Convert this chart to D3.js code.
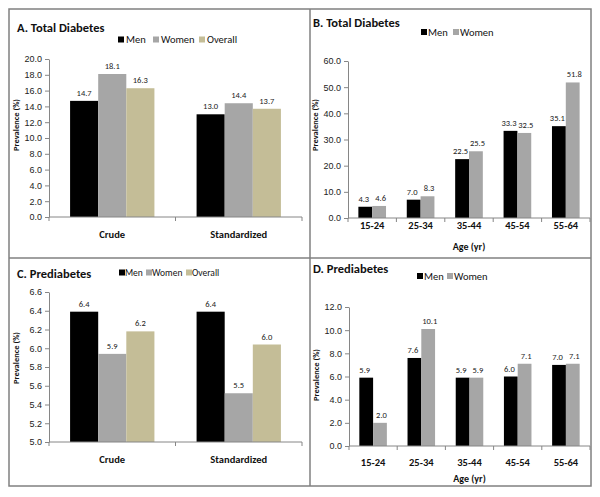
<!DOCTYPE html>
<html><head><meta charset="utf-8">
<script src="https://cdn.jsdelivr.net/npm/d3@7"></script>
<style>
body{margin:0;background:#fff;}
svg{display:block;font-family:Carlito,Lato,'Liberation Sans',sans-serif;}
</style></head><body>
<svg id="c" width="600" height="497"></svg>
<script>
// ---- data ----
const typeCategories = ["Crude", "Standardized"];
const ageCategories = ["15-24", "25-34", "35-44", "45-54", "55-64"];
const seriesABC = ["Men", "Women", "Overall"];
const seriesBD = ["Men", "Women"];
const totalDiabetesMen = [14.7, 13.0];
const totalDiabetesWomen = [18.1, 14.4];
const totalDiabetesOverall = [16.3, 13.7];
const ageDiabetesMen = [4.3, 7.0, 22.5, 33.3, 35.1];
const ageDiabetesWomen = [4.6, 8.3, 25.5, 32.5, 51.8];
const prediabetesMen = [6.39, 6.39];
const prediabetesWomen = [5.94, 5.52];
const prediabetesOverall = [6.18, 6.04];
const agePrediabetesMen = [5.9, 7.6, 5.9, 6.0, 7.0];
const agePrediabetesWomen = [2.0, 10.1, 5.9, 7.1, 7.1];
const ticksA = d3.range(0, 20.001, 2);
const ticksB = d3.range(0, 60.001, 10);
const ticksC = d3.range(5.0, 6.6001, 0.2);
const ticksD = d3.range(0, 12.001, 2);

const colors = {Men: "#000000", Women: "#a6a6a6", Overall: "#c4bd97"};

const svg = d3.select("#c");
svg.append("rect").attr("width", 600).attr("height", 497).attr("fill", "#fff");

// frame
const frame = svg.append("g").attr("stroke", "#808080").attr("stroke-width", 1.5).attr("fill", "none");
frame.append("rect").attr("x", 9).attr("y", 9).attr("width", 582).attr("height", 477);
frame.append("line").attr("x1", 310).attr("x2", 310).attr("y1", 9).attr("y2", 486);
frame.append("line").attr("x1", 9).attr("x2", 591).attr("y1", 258).attr("y2", 258);

function panel(cfg) {
  const g = svg.append("g");
  const x0 = d3.scaleBand().domain(cfg.categories).range(cfg.xr).padding(0);
  const x1 = d3.scaleBand().domain(cfg.series).range([0, x0.bandwidth()]).paddingInner(0).paddingOuter(0.75);
  const y = d3.scaleLinear().domain(cfg.domain).range(cfg.yr);
  const nudge = cfg.series.length === 2 ? [-1.5, 1.5] : [0, 0, 0];

  // bars
  cfg.categories.forEach((c, i) => {
    cfg.series.forEach((s, j) => {
      const v = cfg.values[j][i];
      const bx = x0(c) + x1(s);
      g.append("rect").attr("x", bx).attr("y", y(v))
        .attr("width", x1.bandwidth()).attr("height", y(cfg.domain[0]) - y(v))
        .attr("fill", colors[s]);
      g.append("text").attr("x", bx + x1.bandwidth() / 2 + nudge[j]).attr("y", y(v) - 5)
        .attr("text-anchor", "middle").attr("font-size", 8.5).attr("fill", "#222")
        .text(v.toFixed(1));
    });
  });

  // y axis
  const ya = g.append("g").attr("transform", `translate(${cfg.xr[0]},0)`)
    .call(d3.axisLeft(y).tickValues(cfg.ticks).tickFormat(d3.format(".1f")).tickSize(4).tickSizeOuter(0));
  ya.select(".domain").attr("stroke", "#868686");
  ya.selectAll(".tick line").attr("stroke", "#868686");
  ya.selectAll(".tick text").attr("font-size", 9).attr("fill", "#222").attr("font-family", null).attr("x", -7);

  // x axis
  const xa = g.append("g").attr("transform", `translate(0,${cfg.yr[0]})`);
  xa.append("line").attr("x1", cfg.xr[0]).attr("x2", cfg.xr[1]).attr("stroke", "#868686");
  d3.range(cfg.categories.length + 1).forEach(k => {
    const xx = cfg.xr[0] + k * x0.step();
    xa.append("line").attr("x1", xx).attr("x2", xx).attr("y1", 0).attr("y2", 4).attr("stroke", "#868686");
  });
  cfg.categories.forEach(c => {
    xa.append("text").attr("x", x0(c) + x0.bandwidth() / 2).attr("y", cfg.catY - cfg.yr[0])
      .attr("text-anchor", "middle").attr("font-size", 10.5).attr("font-weight", "bold").attr("fill", "#111").text(c);
  });
  if (cfg.xTitle) {
    g.append("text").attr("x", (cfg.xr[0] + cfg.xr[1]) / 2).attr("y", cfg.xTitleY)
      .attr("text-anchor", "middle").attr("font-size", 10).attr("font-weight", "bold").attr("fill", "#111").text(cfg.xTitle);
  }
  // y title
  g.append("text").attr("transform", `translate(${cfg.yTitleX},${cfg.yTitleY}) rotate(-90)`)
    .attr("text-anchor", "middle").attr("font-size", 8.5).attr("font-weight", "bold").attr("fill", "#111")
    .text("Prevalence (%)");
  // title
  g.append("text").attr("x", cfg.titleX).attr("y", cfg.titleY).attr("font-size", 12.5)
    .attr("font-weight", "bold").attr("fill", "#111").text(cfg.title);
  // legend
  const lg = g.append("g");
  cfg.series.forEach((s, j) => {
    const lx = cfg.legendX[j];
    lg.append("rect").attr("x", lx).attr("y", cfg.legendY - 3).attr("width", 6).attr("height", 6).attr("fill", colors[s]);
    lg.append("text").attr("x", lx + cfg.legendGap).attr("y", cfg.legendY + 3.5).attr("font-size", cfg.legendSize).attr("fill", "#111").text(s);
  });
}

panel({categories: typeCategories, series: seriesABC,
  values: [totalDiabetesMen, totalDiabetesWomen, totalDiabetesOverall],
  xr: [49, 302], yr: [217, 59], domain: [0, 20], ticks: ticksA,
  catY: 238, yTitleX: 19, yTitleY: 125, title: "A. Total Diabetes", titleX: 17, titleY: 32,
  legendX: [118, 153, 199], legendY: 39.5, legendGap: 8, legendSize: 10.5});
panel({categories: ageCategories, series: seriesBD,
  values: [ageDiabetesMen, ageDiabetesWomen],
  xr: [348, 590], yr: [218, 61], domain: [0, 60], ticks: ticksB,
  catY: 229, xTitle: "Age (yr)", xTitleY: 250, yTitleX: 318, yTitleY: 125,
  title: "B. Total Diabetes", titleX: 313, titleY: 27, legendX: [421, 453], legendY: 32, legendGap: 7, legendSize: 10.5});
panel({categories: typeCategories, series: seriesABC,
  values: [prediabetesMen, prediabetesWomen, prediabetesOverall],
  xr: [49, 302], yr: [442, 292], domain: [5, 6.6], ticks: ticksC,
  catY: 463, yTitleX: 19, yTitleY: 358, title: "C. Prediabetes", titleX: 17, titleY: 278,
  legendX: [119, 146, 186], legendY: 272.5, legendGap: 6, legendSize: 9.5});
panel({categories: ageCategories, series: seriesBD,
  values: [agePrediabetesMen, agePrediabetesWomen],
  xr: [349, 590], yr: [446, 307], domain: [0, 12], ticks: ticksD,
  catY: 466, xTitle: "Age (yr)", xTitleY: 482, yTitleX: 319, yTitleY: 375,
  title: "D. Prediabetes", titleX: 313, titleY: 273, legendX: [417, 447], legendY: 276, legendGap: 7, legendSize: 10.5});
</script></body></html>
